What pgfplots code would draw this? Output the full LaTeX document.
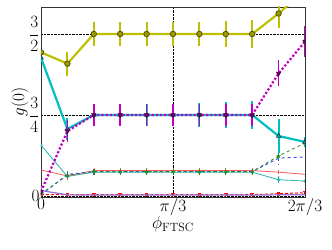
\documentclass[border=0pt]{standalone}
\usepackage{pgfplots}
\pgfplotsset{compat=1.18}
\usetikzlibrary{calc}
\definecolor{myy}{rgb}{0.75,0.75,0}
\definecolor{myc}{rgb}{0,0.75,0.75}
\definecolor{mym}{rgb}{0.75,0,0.75}
\definecolor{cteal}{rgb}{0.13,0.70,0.67}
\definecolor{cred}{rgb}{1,0.35,0.35}
\definecolor{cblue}{rgb}{0.3,0.3,1}
\definecolor{cgreen}{rgb}{0.13,0.55,0.13}
\definecolor{cpurp}{rgb}{0.58,0.44,0.86}
\begin{document}
\begin{tikzpicture}
\begin{axis}[
  scale only axis, width=264bp, height=190bp,
  xmin=0, xmax=2.0944, ymin=-0.01, ymax=1.75,
  xtick={0,1.0472,2.0944}, xticklabels={$0$,$\pi/3$,$2\pi/3$},
  ytick={0,0.75,1.5}, yticklabels={$0$,$\displaystyle\frac{3}{4}$,$\displaystyle\frac{3}{2}$},
  grid=major, major grid style={black,densely dotted,line width=0.6pt},
  tick style={draw=none},
  axis line style={black!80, line width=0.8pt},
  tick label style={font=\fontsize{17}{19}\selectfont},
  label style={font=\fontsize{17}{19}\selectfont},
  xlabel={$\phi_{\rm FTSC}$}, ylabel={$g(0)$},
  xlabel style={yshift=6pt}, ylabel style={yshift=-6pt},
  xticklabel style={yshift=2pt},
  yticklabel style={xshift=2pt},
  clip marker paths=true,
  error bars/y dir=both, error bars/y explicit, error bars/error mark=none,
]
% red dashed squares near 0
\addplot[red, densely dashed, line width=1pt, mark=square*, mark size=1.3pt,
  error bars/error bar style={cred, line width=0.6pt}]
coordinates {(0,0.012)+-(0,0.01) (0.20944,0.012)+-(0,0.01) (0.41888,0.012)+-(0,0.01) (0.62832,0.012)+-(0,0.01) (0.83776,0.012)+-(0,0.01) (1.0472,0.012)+-(0,0.01) (1.25664,0.012)+-(0,0.01) (1.46608,0.012)+-(0,0.01) (1.67552,0.012)+-(0,0.01) (1.88496,0.02)+-(0,0.01) (2.0944,0.03)+-(0,0.01)};
% purple near 0
\addplot[cpurp, line width=1.2pt, mark=none,
  error bars/error bar style={cpurp, line width=1pt}]
coordinates {(0,0.05)+-(0,0.04) (0.20944,0.01)+-(0,0.01) (0.41888,0.008)+-(0,0.005) (0.62832,0.008)+-(0,0.005) (0.83776,0.008)+-(0,0.005) (1.0472,0.008)+-(0,0.005) (1.25664,0.008)+-(0,0.005) (1.46608,0.008)+-(0,0.005) (1.67552,0.008)+-(0,0.005) (1.88496,0.01)+-(0,0.01) (2.0944,0.01)+-(0,0.01)};
% thin teal
\addplot[cteal, line width=0.8pt, mark=o, mark size=1.2pt,
  error bars/error bar style={cteal, line width=0.6pt}]
coordinates {(0,0.47)+-(0,0.01) (0.20944,0.18)+-(0,0.03) (0.41888,0.22)+-(0,0.02) (0.62832,0.22)+-(0,0.02) (0.83776,0.22)+-(0,0.02) (1.0472,0.22)+-(0,0.02) (1.25664,0.22)+-(0,0.02) (1.46608,0.22)+-(0,0.02) (1.67552,0.22)+-(0,0.03) (1.88496,0.15)+-(0,0.03) (2.0944,0.138)+-(0,0.02)};
% thin red
\addplot[cred, line width=0.8pt, mark=none,
  error bars/error bar style={cred, line width=0.6pt}]
coordinates {(0,0.24) (0.20944,0.185)+-(0,0.04) (0.41888,0.235)+-(0,0.02) (0.62832,0.235)+-(0,0.02) (0.83776,0.235)+-(0,0.02) (1.0472,0.235)+-(0,0.02) (1.25664,0.235)+-(0,0.02) (1.46608,0.235)+-(0,0.02) (1.67552,0.235)+-(0,0.02) (1.88496,0.22)+-(0,0.02) (2.0944,0.2)+-(0,0.02)};
% blue dashed
\addplot[cblue, dashed, line width=1pt, mark=none,
  error bars/error bar style={cblue, line width=0.8pt}]
coordinates {(0,0.01) (0.20944,0.2)+-(0,0.03) (0.41888,0.225)+-(0,0.03) (0.62832,0.225)+-(0,0.03) (0.83776,0.225)+-(0,0.03) (1.0472,0.225)+-(0,0.03) (1.25664,0.225)+-(0,0.03) (1.46608,0.225)+-(0,0.03) (1.67552,0.225)+-(0,0.03) (1.88496,0.35)+-(0,0.06) (2.0944,0.36)+-(0,0.06)};
% green dashed stars
\addplot[cgreen, dashed, line width=0.8pt, mark=star, mark size=2pt, mark options={solid},
  error bars/error bar style={cgreen, line width=0.6pt}]
coordinates {(0,0.02) (0.20944,0.19)+-(0,0.03) (0.41888,0.225)+-(0,0.03) (0.62832,0.225)+-(0,0.03) (0.83776,0.225)+-(0,0.03) (1.0472,0.225)+-(0,0.03) (1.25664,0.225)+-(0,0.03) (1.46608,0.225)+-(0,0.03) (1.67552,0.225)+-(0,0.03) (1.88496,0.37)+-(0,0.05) (2.0944,0.49)+-(0,0.05)};
% thick cyan
\addplot[myc, line width=2.2pt, mark=triangle, mark size=2.5pt, mark options={line width=0.8pt, draw=black!60!myc},
  error bars/error bar style={myc, line width=2pt}]
coordinates {(0,1.28)+-(0,0.0) (0.20944,0.62)+-(0,0.1) (0.41888,0.75)+-(0,0.1) (0.62832,0.75)+-(0,0.1) (0.83776,0.75)+-(0,0.1) (1.0472,0.75)+-(0,0.1) (1.25664,0.75)+-(0,0.11) (1.46608,0.75)+-(0,0.12) (1.67552,0.75)+-(0,0.13) (1.88496,0.555)+-(0,0.16) (2.0944,0.5)+-(0,0.05)};
% magenta dotted
\addplot[mym, line width=2.2pt, dotted, mark=triangle*, mark size=2.5pt, mark options={solid, rotate=180, fill=mym!70!black, draw=black!70!mym, line width=0.6pt},
  error bars/error bar style={mym, line width=1.8pt, solid}]
coordinates {(0,0.04)+-(0,0.02) (0.20944,0.6)+-(0,0.1) (0.41888,0.75)+-(0,0.1) (0.62832,0.75)+-(0,0.1) (0.83776,0.75)+-(0,0.1) (1.0472,0.75)+-(0,0.1) (1.25664,0.75)+-(0,0.1) (1.46608,0.75)+-(0,0.1) (1.67552,0.75)+-(0,0.1) (1.88496,1.135)+-(0,0.12) (2.0944,1.43)+-(0,0.14)};
% thick yellow
\addplot[myy, line width=2.2pt, mark=*, mark size=2.8pt, mark options={fill=myy!80!black, draw=black!60!myy, line width=0.7pt},
  error bars/error bar style={myy, line width=2pt}]
coordinates {(0,1.33)+-(0,0.0) (0.20944,1.225)+-(0,0.11) (0.41888,1.5)+-(0,0.11) (0.62832,1.5)+-(0,0.11) (0.83776,1.5)+-(0,0.11) (1.0472,1.5)+-(0,0.11) (1.25664,1.5)+-(0,0.11) (1.46608,1.5)+-(0,0.12) (1.67552,1.5)+-(0,0.13) (1.88496,1.69)+-(0,0.13) (2.0944,1.9)+-(0,0.14)};
\end{axis}
\pgfresetboundingbox
\path[use as bounding box] ($(current axis.south west)+(-41bp,-53bp)$) rectangle ($(current axis.north east)+(27bp,7bp)$);
\end{tikzpicture}
\end{document}
